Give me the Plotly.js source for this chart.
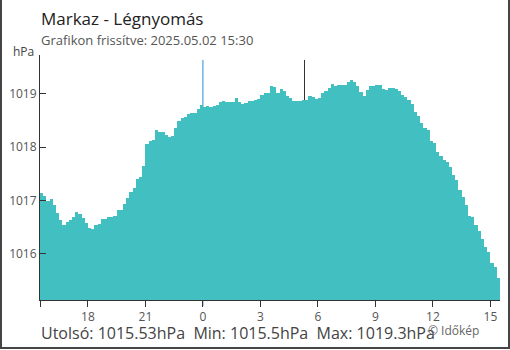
<!DOCTYPE html>
<html>
<head>
<meta charset="utf-8">
<script src="https://cdn.plot.ly/plotly-3.0.1.min.js"></script>
<style>
  html, body { margin: 0; padding: 0; background: #fff; }
  #chart { width: 510px; height: 350px; }
</style>
</head>
<body>
<div id="chart"></div>
<script>
// ---- Data ----
const startTime = "2025-05-01 15:30";
const endTime = "2025-05-02 15:30";
const stepMinutes = 10;
const pressure = [
  1017.14, 1017.09, 1017.00, 1017.03, 1016.92, 1016.76, 1016.63, 1016.55, 1016.60, 1016.64,
  1016.70, 1016.78, 1016.74, 1016.67, 1016.58, 1016.49, 1016.47, 1016.54, 1016.57, 1016.65,
  1016.65, 1016.70, 1016.70, 1016.72, 1016.82, 1016.83, 1016.93, 1017.05, 1017.16, 1017.24,
  1017.40, 1017.45, 1017.65, 1018.07, 1018.12, 1018.14, 1018.32, 1018.28, 1018.28, 1018.23,
  1018.20, 1018.22, 1018.36, 1018.49, 1018.54, 1018.56, 1018.62, 1018.64, 1018.65, 1018.72,
  1018.79, 1018.75, 1018.77, 1018.76, 1018.77, 1018.79, 1018.85, 1018.86, 1018.85, 1018.85,
  1018.85, 1018.92, 1018.85, 1018.81, 1018.83, 1018.86, 1018.87, 1018.88, 1018.91, 1018.98,
  1019.01, 1019.02, 1019.15, 1019.13, 1019.02, 1019.09, 1019.05, 1018.96, 1018.93, 1018.87,
  1018.87, 1018.86, 1018.89, 1018.88, 1018.96, 1018.95, 1018.90, 1018.93, 1019.02, 1019.06,
  1019.11, 1019.19, 1019.14, 1019.16, 1019.17, 1019.17, 1019.23, 1019.26, 1019.22, 1019.14,
  1019.04, 1018.96, 1019.07, 1019.15, 1019.14, 1019.16, 1019.17, 1019.10, 1019.08, 1019.11,
  1019.12, 1019.10, 1019.05, 1018.98, 1018.95, 1018.89, 1018.82, 1018.67, 1018.58, 1018.45,
  1018.37, 1018.33, 1018.12, 1018.08, 1017.91, 1017.84, 1017.77, 1017.73, 1017.63, 1017.48,
  1017.39, 1017.20, 1017.06, 1016.92, 1016.71, 1016.70, 1016.55, 1016.43, 1016.28, 1016.13,
  1016.04, 1015.84, 1015.76, 1015.55
];
const xTickVals = ["2025-05-01 15:30", "2025-05-01 18:00", "2025-05-01 21:00", "2025-05-02 00:00",
  "2025-05-02 03:00", "2025-05-02 06:00", "2025-05-02 09:00", "2025-05-02 12:00", "2025-05-02 15:00"];
const xTickText = ["", "18", "21", "0", "3", "6", "9", "12", "15"];
const yTickVals = [1016, 1017, 1018, 1019];
const midnight = "2025-05-02 00:00";
const sunrise = "2025-05-02 05:18";
const yRange = [1015.137, 1019.73];
const titleText = "Markaz - Légnyomás";
const subtitleText = "Grafikon frissítve: 2025.05.02 15:30";
const statsText = "Utolsó: 1015.53hPa  Min: 1015.5hPa  Max: 1019.3hPa";
const creditText = "© Időkép";
const unitText = "hPa";

// ---- Build times ----
function fmt(d) {
  const p = n => String(n).padStart(2, "0");
  return d.getFullYear() + "-" + p(d.getMonth() + 1) + "-" + p(d.getDate()) + " " + p(d.getHours()) + ":" + p(d.getMinutes());
}
const t0 = new Date(2025, 4, 1, 15, 30);
const times = pressure.map((_, i) => fmt(new Date(t0.getTime() + i * stepMinutes * 60000)));

const font = "Open Sans, Noto Sans, sans-serif";

const trace = {
  type: "bar",
  x: times,
  y: pressure,
  width: stepMinutes * 60000,
  offset: 0,
  marker: { color: "#41bfc1", line: { width: 0 } },
  hoverinfo: "skip"
};

const layout = {
  width: 510, height: 350,
  margin: { l: 40, r: 10, t: 55, b: 50, pad: 0 },
  paper_bgcolor: "#fff", plot_bgcolor: "#fff",
  showlegend: false,
  bargap: 0,
  font: { family: font, color: "#555", size: 12 },
  xaxis: {
    type: "date",
    range: [startTime, endTime],
    tickmode: "array", tickvals: xTickVals, ticktext: xTickText,
    ticks: "outside", ticklen: 6, tickcolor: "#333", tickwidth: 1,
    ticklabelstandoff: 0,
    showline: true, linecolor: "#333", linewidth: 1,
    showgrid: false, zeroline: false,
    tickfont: { size: 12, color: "#555", family: font }
  },
  yaxis: {
    range: yRange,
    tickmode: "array", tickvals: yTickVals,
    ticks: "inside", ticklen: 6, tickcolor: "#333", tickwidth: 1,
    showline: true, linecolor: "#333", linewidth: 1,
    showgrid: false, zeroline: false,
    tickfont: { size: 12, color: "#555", family: font }
  },
  shapes: [
    { type: "line", layer: "below", xref: "x", yref: "paper", x0: midnight, x1: midnight, y0: -0.025, y1: 0.98,
      line: { color: "#2a8fdc", width: 1 } },
    { type: "line", layer: "below", xref: "x", yref: "paper", x0: sunrise, x1: sunrise, y0: 0, y1: 0.98,
      line: { color: "#333", width: 1 } },
    // outer frame (left, right, bottom)
    { type: "line", xref: "paper", yref: "paper", x0: -0.0848, x1: -0.0848, y0: -0.2, y1: 1.23,
      line: { color: "#444", width: 2 } },
    { type: "line", xref: "paper", yref: "paper", x0: 1.0196, x1: 1.0196, y0: -0.2, y1: 1.23,
      line: { color: "#444", width: 2 } },
    { type: "line", xref: "paper", yref: "paper", x0: -0.0848, x1: 1.0196, y0: -0.1959, y1: -0.1959,
      line: { color: "#444", width: 2 } }
  ],
  annotations: [
    { text: titleText, xref: "paper", yref: "paper", x: -0.003, y: 1.147, xanchor: "left", yanchor: "middle",
      showarrow: false, font: { family: font, size: 17, color: "#222" } },
    { text: subtitleText, xref: "paper", yref: "paper", x: -0.003, y: 1.061, xanchor: "left", yanchor: "middle",
      showarrow: false, font: { family: font, size: 13, color: "#555" } },
    { text: unitText, xref: "paper", yref: "paper", x: -0.063, y: 1.016, xanchor: "left", yanchor: "middle",
      showarrow: false, font: { family: font, size: 12, color: "#444" } },
    { text: statsText, xref: "paper", yref: "paper", x: -0.003, y: -0.134, xanchor: "left", yanchor: "middle",
      showarrow: false, font: { family: font, size: 16, color: "#444" } },
    { text: creditText, xref: "paper", yref: "paper", x: 0.84, y: -0.125, xanchor: "left", yanchor: "middle",
      showarrow: false, font: { family: font, size: 12, color: "#666" } }
  ]
};

Plotly.newPlot("chart", [trace], layout, { staticPlot: true, displayModeBar: false });
</script>
</body>
</html>
